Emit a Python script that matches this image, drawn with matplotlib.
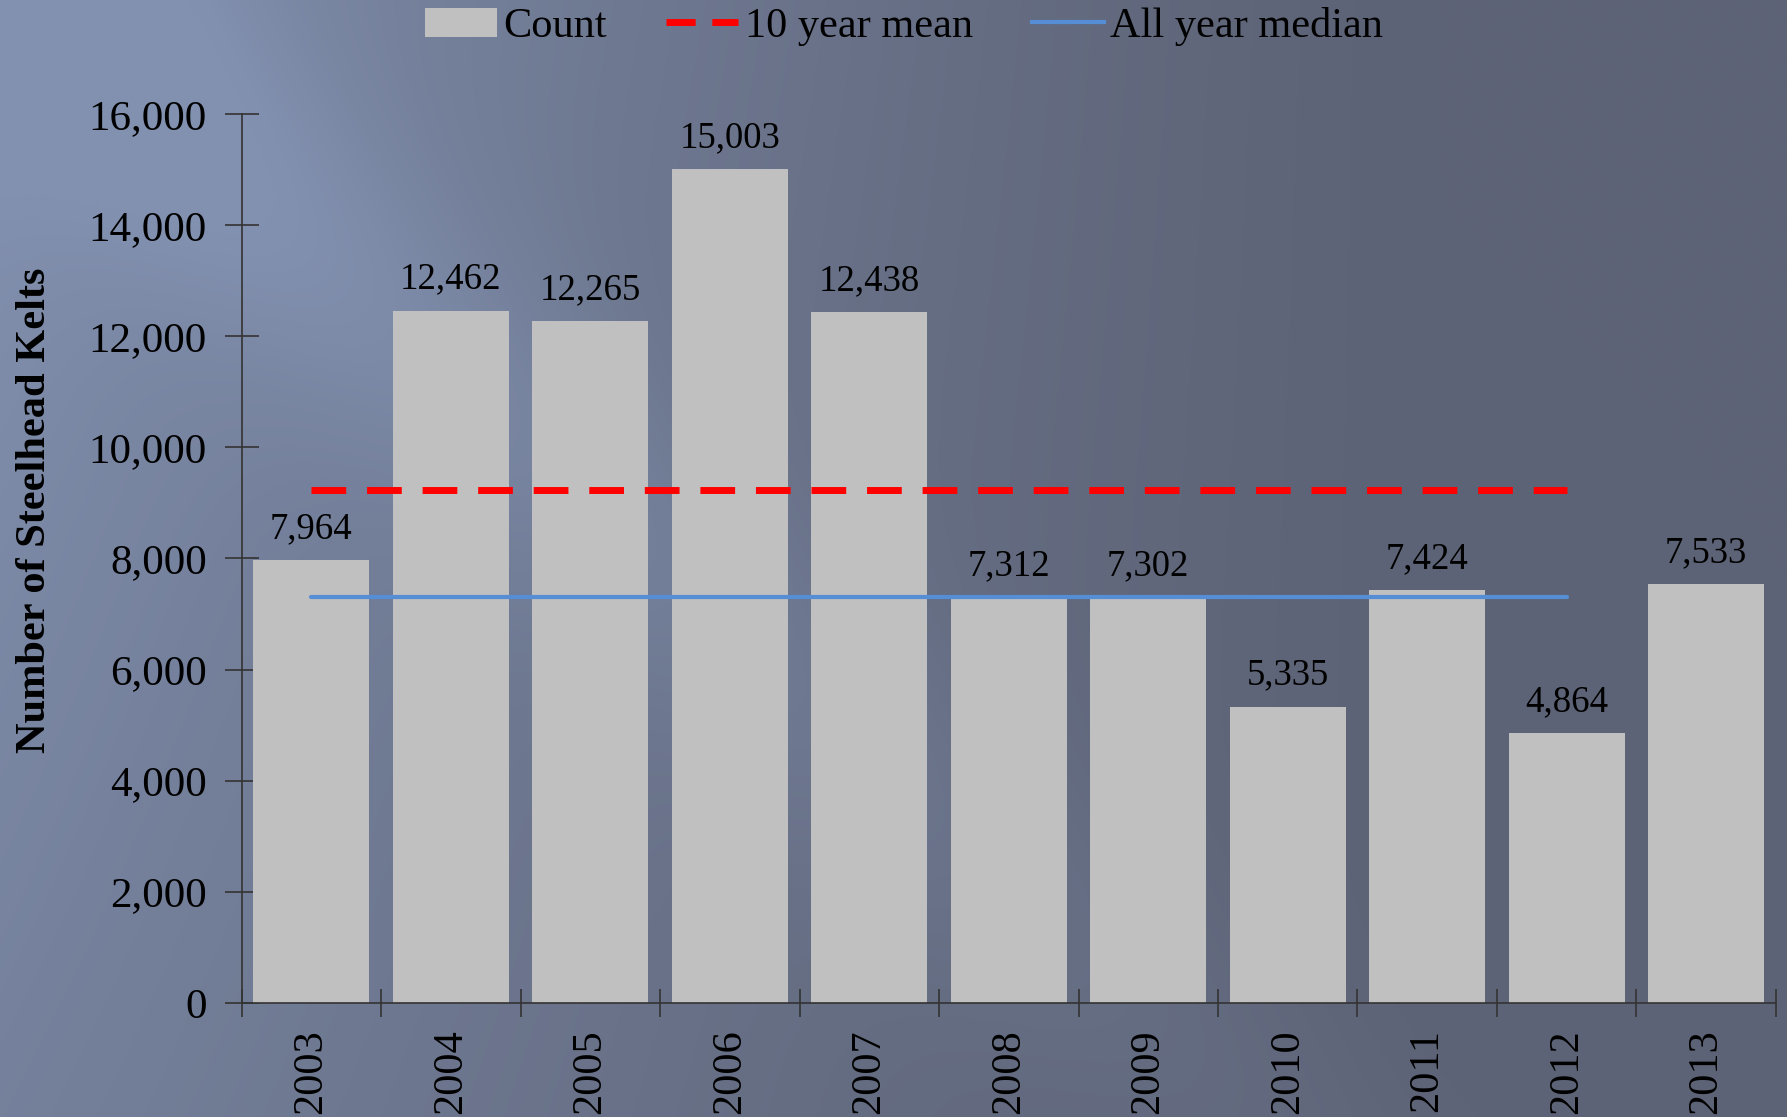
import numpy as np
import matplotlib
matplotlib.use("Agg")
import matplotlib.pyplot as plt
from matplotlib.patches import Patch
from matplotlib.lines import Line2D

years = ["2003", "2004", "2005", "2006", "2007", "2008", "2009", "2010", "2011", "2012", "2013"]
counts = [7964, 12462, 12265, 15003, 12438, 7312, 7302, 5335, 7424, 4864, 7533]
mean_years = ["2003", "2012"]
ten_year_mean = 9237
all_year_median = 7312
y_ticks = [0, 2000, 4000, 6000, 8000, 10000, 12000, 14000, 16000]

plt.rcParams['font.family'] = ['Liberation Serif', 'DejaVu Serif']

W, H = 1787, 1117
fig = plt.figure(figsize=(W / 100, H / 100), dpi=100)

# background gradient
bg_ax = fig.add_axes([0, 0, 1, 1], zorder=-10)
xx, yy = np.meshgrid(np.linspace(0, 1, 400), np.linspace(0, 1, 250))
light = np.array([130, 145, 176]) / 255
dark = np.array([93, 99, 118]) / 255
f = np.clip(1 - xx * 1.25, 0, 1) ** 1.3 * (1 - 0.35 * yy)
d = (xx * 0.8 - yy * 0.55 - 0.02)
streak = np.exp(-(d / 0.09) ** 2) * 0.35 * (1 - xx)
f = np.clip(f + streak, 0, 1)
img = dark[None, None, :] + (light - dark)[None, None, :] * f[..., None]
bg_ax.imshow(img, aspect='auto', extent=[0, 1, 0, 1], origin='upper', interpolation='bicubic')
bg_ax.axis('off')

ax = fig.add_axes([0.1352, 0.1021, 0.9938 - 0.1352, 0.898 - 0.1021])
ax.set_facecolor('none')
x = np.arange(len(years))
ax.bar(x, counts, width=0.83, color='#C0C0C0', zorder=2)
for xi, c in zip(x, counts):
    ax.annotate(f"{c:,}", (xi, c), xytext=(0, 10), textcoords='offset points',
                ha='center', va='bottom', fontsize=26.5, color='black', zorder=5)

x0 = years.index(mean_years[0])
x1 = years.index(mean_years[1])
ax.plot([x0, x1], [ten_year_mean] * 2, color='#FF0000', lw=5,
        dashes=(5.0, 3.0), zorder=3)
ax.plot([x0, x1], [all_year_median] * 2, color='#558ED5', lw=3, zorder=3,
        solid_capstyle='round')

ax.set_xlim(-0.5, len(years) - 0.5)
ax.set_ylim(0, 16000)
ax.set_yticks(y_ticks)
ax.set_yticklabels([f"{v:,}" for v in y_ticks], fontsize=31)
ax.set_xticks(x)
ax.set_xticklabels(years, rotation=90, fontsize=30.5)
ax.tick_params(axis='x', which='major', length=0, pad=19)
ax.set_xticks(np.arange(-0.5, len(years)), minor=True)
ax.tick_params(axis='x', which='minor', length=20, direction='inout', color='#333333', width=1.2)
ax.tick_params(axis='y', length=24, direction='inout', color='#333333', width=1.2, pad=13)
for s in ['top', 'right']:
    ax.spines[s].set_visible(False)
for s in ['left', 'bottom']:
    ax.spines[s].set_color('#333333')
    ax.spines[s].set_linewidth(1.2)
ax.set_ylabel("Number of Steelhead Kelts", fontsize=30.5, fontweight='bold')
ax.yaxis.set_label_coords(-0.122, 0.554)

handles = [Patch(facecolor='#C0C0C0', edgecolor='none'),
           Line2D([], [], color='#FF0000', lw=5, dashes=(4.2, 2.4)),
           Line2D([], [], color='#558ED5', lw=3)]
fig.legend(handles, ["Count", "10 year mean", "All year median"], loc='center',
           bbox_to_anchor=(0.506, 0.976), ncol=3, frameon=False, fontsize=30.5,
           handlelength=1.7, handleheight=0.7, columnspacing=1.4, handletextpad=0.15)

fig.savefig("out.png", dpi=100)
